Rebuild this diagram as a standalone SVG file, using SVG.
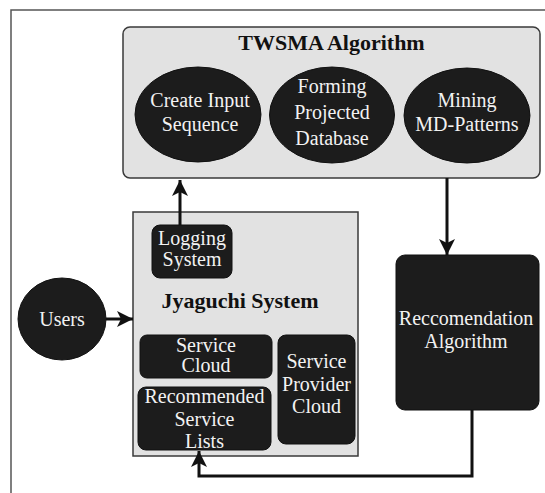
<svg xmlns="http://www.w3.org/2000/svg" width="545" height="493" viewBox="0 0 545 493">
<style>
.frame{fill:none;stroke:#555;stroke-width:1.5}
.light{fill:#e2e2e2;stroke:#3a3a3a;stroke-width:1.5}
.dark{fill:#1c1c1c;stroke:#111;stroke-width:1}
.wt{font-family:"Liberation Serif",serif;font-size:20px;fill:#f2f2f2;text-anchor:middle}
.bt{font-family:"Liberation Serif",serif;font-size:22px;font-weight:bold;fill:#111;text-anchor:middle}
.conn{fill:none;stroke:#111;stroke-width:3}
</style>
<defs>
<marker id="arr" markerUnits="userSpaceOnUse" markerWidth="20" markerHeight="20" viewBox="0 0 20 20" refX="18" refY="10" orient="auto">
<path d="M2,2 L18,10 L2,18 L6,10 z" fill="#111"/>
</marker>
</defs>
<rect class="frame" x="11" y="10" width="600" height="600"/>

<g id="twsma">
<rect class="light" x="123" y="27" width="417" height="151" rx="7"/>
<text class="bt" x="331.5" y="50">TWSMA Algorithm</text>
</g>
<g id="create-input">
<ellipse class="dark" cx="198" cy="114.5" rx="63" ry="47.5"/>
<text class="wt" x="200" y="107">Create Input</text>
<text class="wt" x="200" y="131">Sequence</text>
</g>
<g id="forming">
<ellipse class="dark" cx="332" cy="115" rx="62.5" ry="48"/>
<text class="wt" x="332" y="93">Forming</text>
<text class="wt" x="332" y="119">Projected</text>
<text class="wt" x="332" y="145">Database</text>
</g>
<g id="mining">
<ellipse class="dark" cx="467" cy="115.5" rx="63" ry="47.5"/>
<text class="wt" x="467" y="107">Mining</text>
<text class="wt" x="467" y="131">MD-Patterns</text>
</g>

<g id="jyaguchi">
<rect class="light" x="133" y="212" width="225" height="244"/>
<text class="bt" x="240" y="308">Jyaguchi System</text>
</g>
<g id="logging">
<rect class="dark" x="152" y="225" width="80" height="53" rx="8"/>
<text class="wt" x="192" y="245">Logging</text>
<text class="wt" x="192" y="266">System</text>
</g>
<g id="service-cloud">
<rect class="dark" x="140" y="335" width="132" height="43" rx="7"/>
<text class="wt" x="206" y="352">Service</text>
<text class="wt" x="206" y="372">Cloud</text>
</g>
<g id="recommended-lists">
<rect class="dark" x="138" y="387" width="133" height="63" rx="8"/>
<text class="wt" x="204.5" y="403">Recommended</text>
<text class="wt" x="204.5" y="426">Service</text>
<text class="wt" x="204.5" y="448">Lists</text>
</g>
<g id="provider-cloud">
<rect class="dark" x="278" y="335" width="77" height="109" rx="8"/>
<text class="wt" x="316.5" y="368">Service</text>
<text class="wt" x="316.5" y="391">Provider</text>
<text class="wt" x="316.5" y="413">Cloud</text>
</g>
<g id="users">
<ellipse class="dark" cx="62" cy="319" rx="44" ry="41"/>
<text class="wt" x="62" y="326">Users</text>
</g>
<g id="reccomendation">
<rect class="dark" x="396" y="255" width="143" height="155" rx="9"/>
<text class="wt" x="466" y="325">Reccomendation</text>
<text class="wt" x="466" y="348">Algorithm</text>
</g>

<g id="connectors">
<path class="conn" d="M180,225 L180,180" marker-end="url(#arr)"/>
<path class="conn" d="M447,178 L447,255" marker-end="url(#arr)"/>
<path class="conn" d="M106,319 L133,319" marker-end="url(#arr)"/>
<path class="conn" d="M472,410 L472,476 L199,476 L199,451" marker-end="url(#arr)"/>
</g>
</svg>
